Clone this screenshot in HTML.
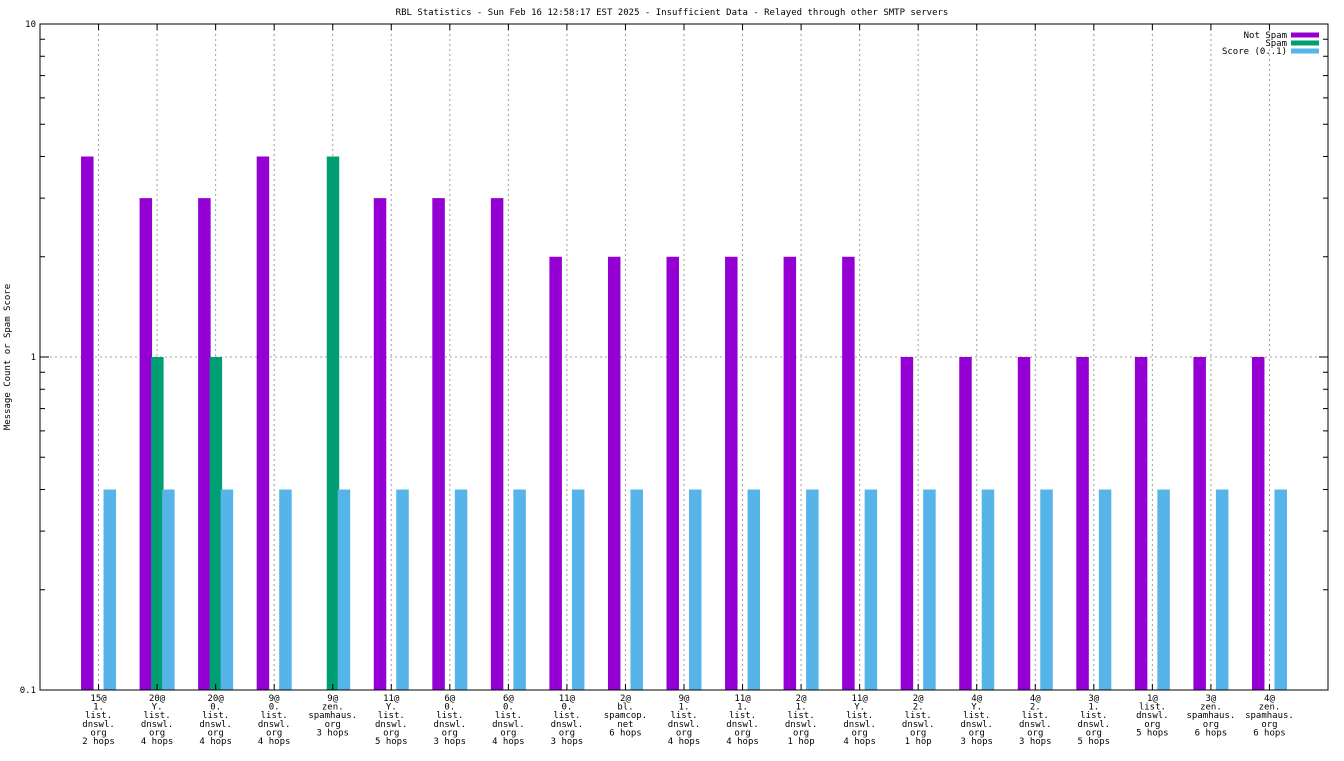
<!DOCTYPE html>
<html><head><meta charset="utf-8"><style>
html,body{margin:0;padding:0;background:#fff;}
svg text{font-family:"DejaVu Sans Mono","Liberation Mono",monospace;font-size:9px;fill:#000;}
</style></head><body>
<svg id="chart" width="1344" height="756" xmlns="http://www.w3.org/2000/svg">
<text x="672" y="15" text-anchor="middle">RBL Statistics - Sun Feb 16 12:58:17 EST 2025 - Insufficient Data - Relayed through other SMTP servers</text>
<text transform="translate(10,357) rotate(-90)" text-anchor="middle">Message Count or Spam Score</text>
<g id="grid"></g><g id="bars"></g><g id="axes"></g>
</svg>
<script>
const categories = [
 ["15@","1.","list.","dnswl.","org","2 hops"],
 ["20@","Y.","list.","dnswl.","org","4 hops"],
 ["20@","0.","list.","dnswl.","org","4 hops"],
 ["9@","0.","list.","dnswl.","org","4 hops"],
 ["9@","zen.","spamhaus.","org","3 hops"],
 ["11@","Y.","list.","dnswl.","org","5 hops"],
 ["6@","0.","list.","dnswl.","org","3 hops"],
 ["6@","0.","list.","dnswl.","org","4 hops"],
 ["11@","0.","list.","dnswl.","org","3 hops"],
 ["2@","bl.","spamcop.","net","6 hops"],
 ["9@","1.","list.","dnswl.","org","4 hops"],
 ["11@","1.","list.","dnswl.","org","4 hops"],
 ["2@","1.","list.","dnswl.","org","1 hop"],
 ["11@","Y.","list.","dnswl.","org","4 hops"],
 ["2@","2.","list.","dnswl.","org","1 hop"],
 ["4@","Y.","list.","dnswl.","org","3 hops"],
 ["4@","2.","list.","dnswl.","org","3 hops"],
 ["3@","1.","list.","dnswl.","org","5 hops"],
 ["1@","list.","dnswl.","org","5 hops"],
 ["3@","zen.","spamhaus.","org","6 hops"],
 ["4@","zen.","spamhaus.","org","6 hops"]
];
const notSpam = [4,3,3,4,0,3,3,3,2,2,2,2,2,2,1,1,1,1,1,1,1];
const spam =    [0,1,1,0,4,0,0,0,0,0,0,0,0,0,0,0,0,0,0,0,0];
const score =   [0.4,0.4,0.4,0.4,0.4,0.4,0.4,0.4,0.4,0.4,0.4,0.4,0.4,0.4,0.4,0.4,0.4,0.4,0.4,0.4,0.4];
const yTickLabels = ["0.1","1","10"];
const yTickValues = [0.1,1,10];

const L=40,R=1328,T=24,B=690;
const NS="http://www.w3.org/2000/svg";
const step=(R-L)/(categories.length+1);
const xc=i=>L+(i+1)*step;
const ys=v=>B-(Math.log10(v)-Math.log10(0.1))/2*(B-T);
function mk(tag,attrs,parent){const e=document.createElementNS(NS,tag);for(const k in attrs)e.setAttribute(k,attrs[k]);parent.appendChild(e);return e;}
const grid=document.getElementById('grid'),bars=document.getElementById('bars'),axes=document.getElementById('axes');
// grid
categories.forEach((c,i)=>{const l=mk('line',{x1:xc(i),x2:xc(i),y1:T,y2:B,stroke:'#a0a0a0','stroke-dasharray':'2,3'},grid);

});
const hg=mk('line',{x1:L,x2:R,y1:ys(1),y2:ys(1),stroke:'#a0a0a0','stroke-dasharray':'2,3'},grid);


// bars
const series=[[notSpam,'#9400d3',-17.5,'bar-not-spam'],[spam,'#009e73',-6,'bar-spam'],[score,'#56b4e9',5,'bar-score']];
series.forEach(([arr,col,off,name])=>{arr.forEach((v,i)=>{if(v<=0)return;const y=ys(v);
const r=mk('rect',{x:xc(i)+off,y:y,width:12.5,height:B-y,fill:col},bars);

});});
// frame
const fr=mk('rect',{x:L,y:T,width:R-L,height:B-T,fill:'none',stroke:'#000','stroke-width':1},axes);


// y ticks
yTickValues.forEach((v,k)=>{const y=ys(v);
mk('line',{x1:L,x2:L+9,y1:y,y2:y,stroke:'#000'},axes);mk('line',{x1:R,x2:R-9,y1:y,y2:y,stroke:'#000'},axes);
const t=mk('text',{x:L-4,y:y+3,'text-anchor':'end'},axes);t.textContent=yTickLabels[k];


if(k<yTickValues.length-1){for(let m=2;m<=9;m++){const yy=ys(v*m);
mk('line',{x1:L,x2:L+5,y1:yy,y2:yy,stroke:'#000'},axes);mk('line',{x1:R,x2:R-5,y1:yy,y2:yy,stroke:'#000'},axes);}}});
// x ticks and labels
categories.forEach((c,i)=>{const x=xc(i);
mk('line',{x1:x,x2:x,y1:B,y2:B-6,stroke:'#000'},axes);mk('line',{x1:x,x2:x,y1:T,y2:T+6,stroke:'#000'},axes);
const t=mk('text',{x:x,y:B+11,'text-anchor':'middle'},axes);


c.forEach((s,j)=>{const ts=mk('tspan',{x:x,dy:j?8.6:0},t);ts.textContent=s;});});
// legend
const leg=[['Not Spam','#9400d3'],['Spam','#009e73'],['Score (0..1)','#56b4e9']];
leg.forEach(([lab,col],k)=>{const y=35+k*8;
const t=mk('text',{x:1287,y:y+3,'text-anchor':'end'},axes);t.textContent=lab;


const r=mk('rect',{x:1291,y:y-2.5,width:28,height:5,fill:col},axes);

});
</script>
</body></html>
